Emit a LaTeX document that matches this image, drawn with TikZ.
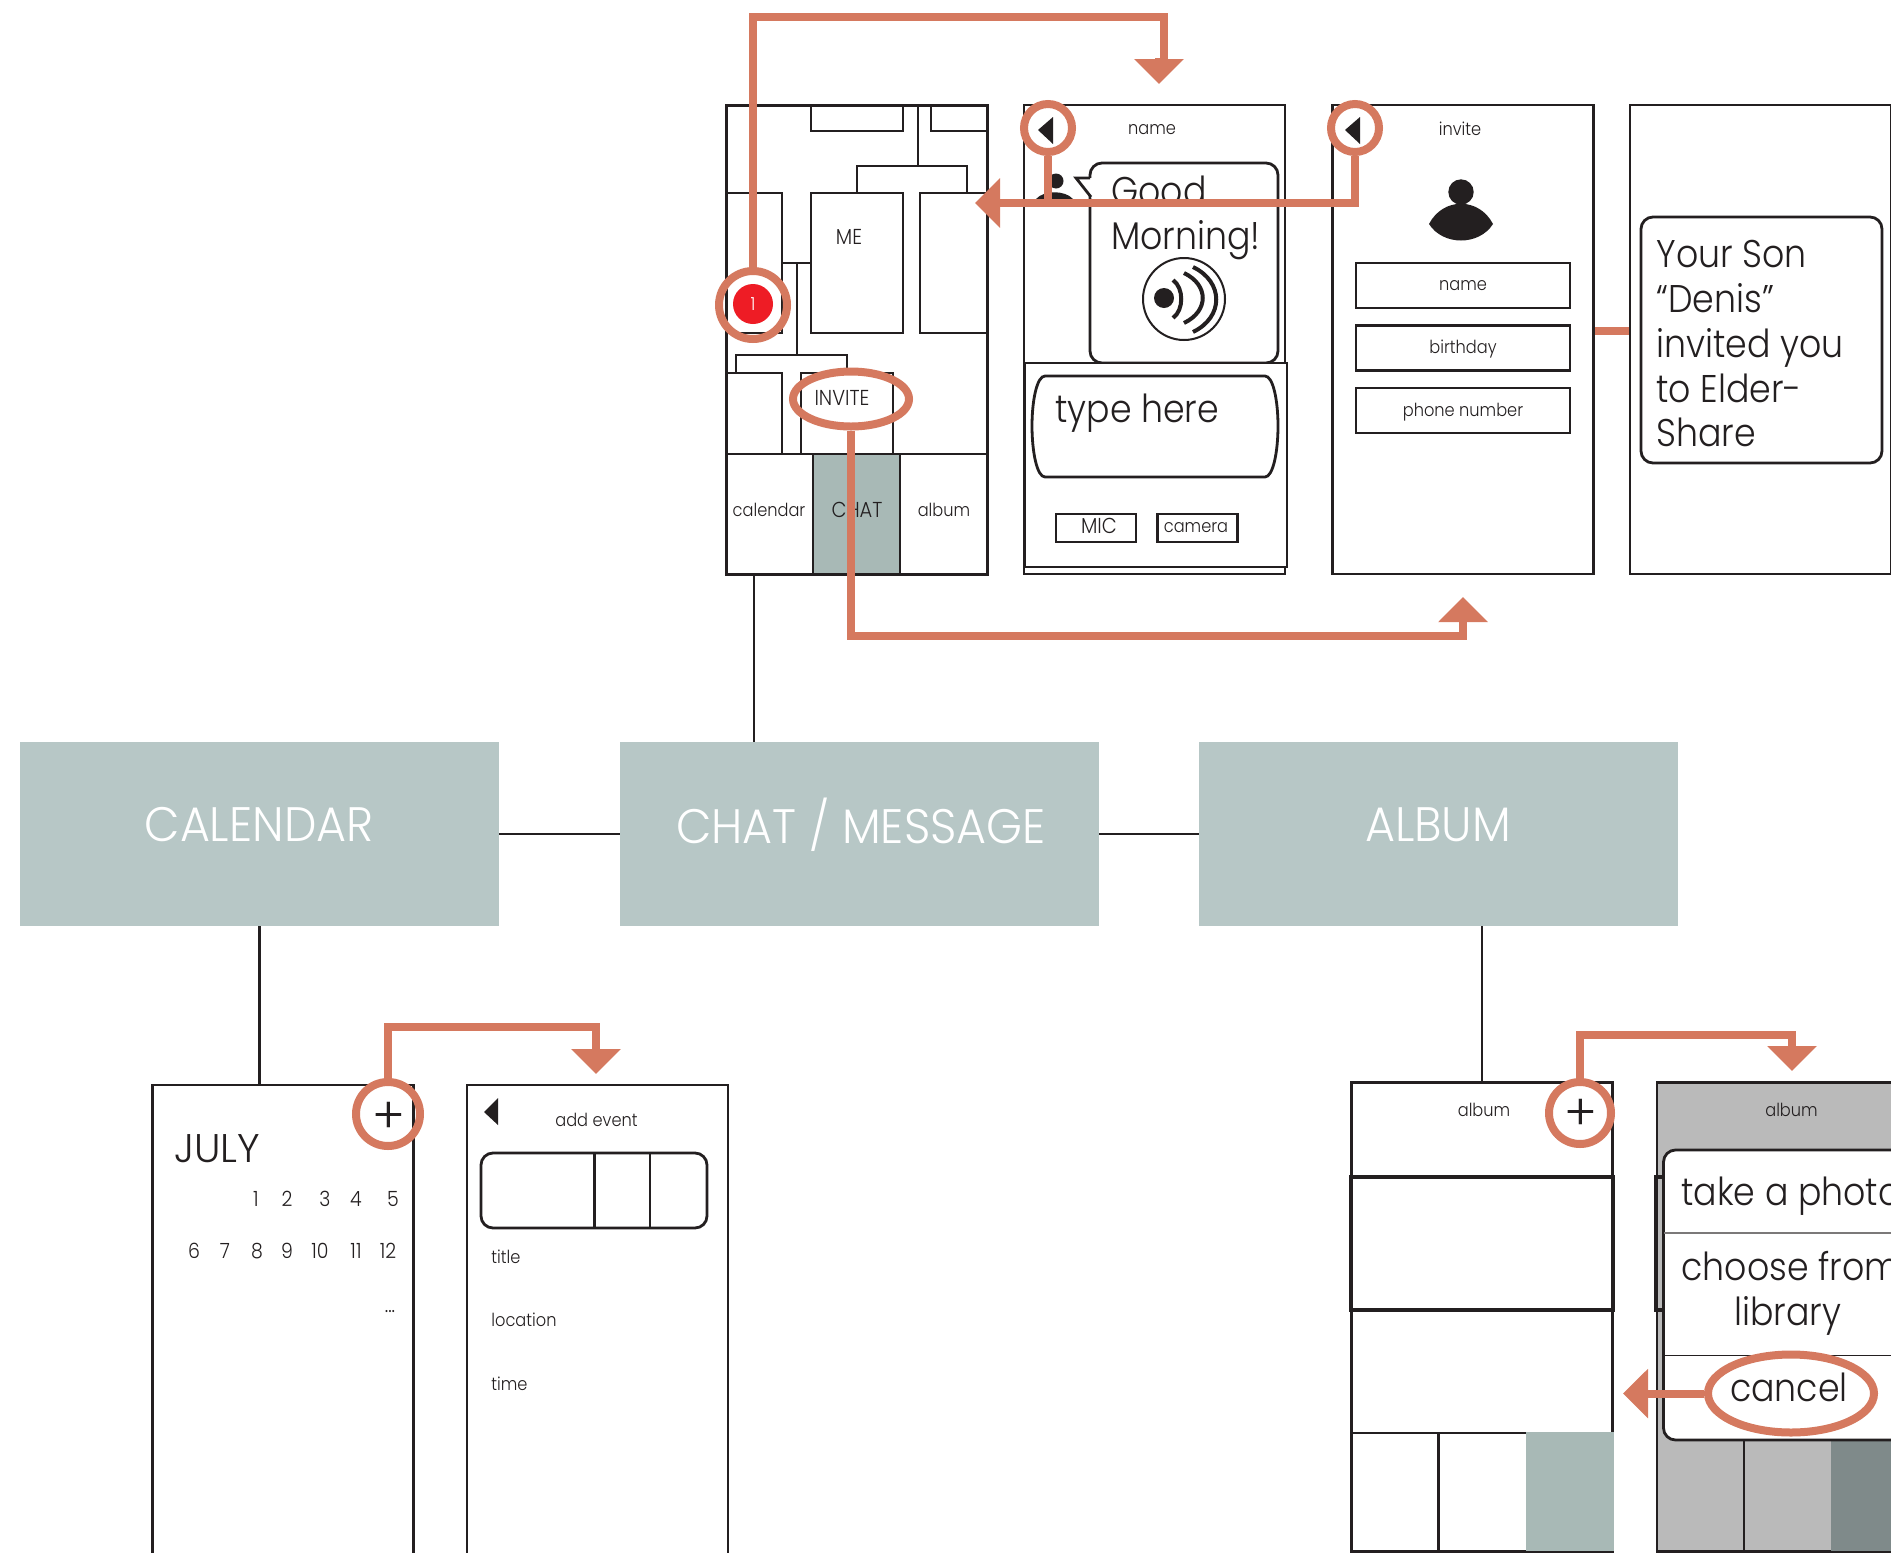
\documentclass[tikz,border=0pt]{standalone}
\usepackage{fontspec}
\setmainfont{Poppins Light}[FakeStretch=0.9]
\newfontfamily\topicfont{Poppins Light}[FakeStretch=0.95]
\newfontfamily\plainfont{Poppins Light}
\usetikzlibrary{positioning, arrows.meta, shapes.geometric}
\definecolor{ink}{HTML}{231F20}
\definecolor{flowred}{HTML}{D5795F}
\definecolor{sage}{HTML}{B7C7C6}
\definecolor{tabsage}{HTML}{A8B9B6}
\definecolor{dimgray}{HTML}{BABABA}
\definecolor{dimtab}{HTML}{7F8A8A}
\definecolor{badgered}{HTML}{EE1C25}

\begin{document}
\begin{tikzpicture}[x=0.5pt, y=-0.5pt, font=\fontsize{9}{10}\selectfont, text=ink,
            wire/.style ={draw=ink, line width=1.4pt},
            screen/.style ={wire, fill=white, rectangle, inner sep=0pt, minimum width=130.5pt, minimum height=234.5pt},
            topic/.style ={rectangle, fill=sage, inner sep=0pt, minimum width=239.5pt, minimum height=92pt},
            topictext/.style ={text=white, font=\topicfont\fontsize{24.2}{26}\selectfont},
            tab/.style ={wire, rectangle, inner sep=0pt, minimum width=43.5pt, minimum height=60pt},
            field/.style ={wire, rectangle, inner sep=0pt, minimum width=107pt, minimum height=22.5pt},
            small/.style ={wire, rectangle, inner sep=0pt, minimum width=40pt, minimum height=14pt},
            bubble/.style ={wire, fill=white, rectangle, rounded corners=6pt, inner sep=0pt},
            big/.style ={font=\fontsize{19.3}{22.4}\selectfont},
            caps/.style ={font=\fontsize{10.8}{12}\selectfont},
            day/.style ={font=\fontsize{10.5}{12}\selectfont},
            plusmark/.style ={font=\plainfont\fontsize{25}{25}\selectfont},
            ring/.style ={circle, draw=flowred, line width=4pt, inner sep=0pt},
            oval/.style ={ellipse, draw=flowred, line width=4pt, inner sep=0pt},
            flow/.style ={draw=flowred, line width=4pt},
            flowtip/.style ={flow, -{Triangle[length=12.5pt, width=24pt]}},
            link/.style ={draw=ink, line width=1.25pt}]

        \clip (0,0) rectangle (1891,1553);

        %%-------------------------- screens arriba --------------
        \node[screen, line width=1.5pt] (home) at (856.5, 339.5) {};
        \node[screen] (nameScreen) at (1154.5, 339.5) {};
        \node[screen] (inviteScreen) at (1463, 339.5) {};
        \node[screen] (sonScreen) at (1760.5, 339.5) {};

        % wireframe de home
        \draw[wire] (811,105) rectangle (903,131);
        \draw[wire] (931,105) rectangle (987,131);
        \draw[wire] (918,105) -- (918,166);
        \draw[wire] (857,193) -- (857,166) -- (967,166) -- (967,193);
        \draw[wire] (811,193) rectangle (903,333);
        \draw[wire] (920,193) rectangle (987,333);
        \draw[wire] (726,193) rectangle (782,333);
        \draw[wire] (782,263) -- (811,263);
        \draw[wire] (797,263) -- (797,355);
        \draw[wire] (736,373) -- (736,355) -- (847,355) -- (847,373);
        \draw[wire] (726,373) rectangle (782,454);
        \draw[wire] (801,373) rectangle (893,454);
        \node[caps] (meLabel) at (849, 237) {ME};
        \node[caps] (inviteLabel) at (842, 398) {INVITE};

        \node[tab] (tabCal) at (769.5, 514) {};
        \node[tab, fill=tabsage] (tabChat) at (856.5, 514) {};
        \node[tab] (tabAlbum) at (943.5, 514) {};
        \node (calTabLabel) at (769, 510) {calendar};
        \node[caps] (chatTabLabel) at (857, 510) {CHAT};
        \node (albumTabLabel) at (944, 510) {album};

        % pantalla de chat
        \node (nameTitle) at (1152, 130) {name};
        \fill[ink] (1056,181) circle (7.5);
        \fill[ink] (1036,199) .. controls (1044,190) and (1065,190) .. (1073,199) .. controls (1065,209) and (1044,209) .. (1036,199) -- cycle;
        \node[bubble, minimum width=94pt, minimum height=100pt] (goodBubble) at (1184, 263) {};
        \fill[white] (1092,178) -- (1076,178) -- (1092,198) -- cycle;
        \draw[wire] (1090,178) -- (1076,178) -- (1091,197);
        \node[big, anchor=base west, inner sep=0pt] (goodText) at (1111, 204) {Good};
        \node[big, anchor=base west, inner sep=0pt] (morningText) at (1111, 249) {Morning!};
        \node[circle, draw=ink, line width=1pt, minimum size=41pt, inner sep=0pt] (speaker) at (1184, 299) {};
        \fill[ink] (1164,298) circle (10);
        \draw[ink, line width=2pt] (1173,280) .. controls (1184,288) and (1184,310) .. (1173,318);
        \draw[ink, line width=2pt] (1184,273) .. controls (1209,285) and (1209,311) .. (1184,323);
        \draw[ink, line width=2pt] (1193,267) .. controls (1224,282) and (1224,317) .. (1193,332);

        \draw[wire, fill=white] (1025,363) rectangle (1287,567);
        \draw[wire] (1045,376) -- (1265,376) .. controls (1273,376) and (1278,400) .. (1278,426) .. controls (1278,452) and (1273,477) .. (1265,477) -- (1045,477) .. controls (1037,477) and (1032,452) .. (1032,426) .. controls (1032,400) and (1037,376) .. (1045,376) -- cycle;
        \node[big, anchor=base west, inner sep=0pt] (typeText) at (1055, 422) {type here};
        \node[small] (micBox) at (1096, 528) {};
        \node[caps] (micLabel) at (1099, 526) {MIC};
        \node[small] (cameraBox) at (1197.5, 528) {};
        \node (cameraLabel) at (1196, 528) {camera};

        % pantalla invite
        \node (inviteTitle) at (1460, 129) {invite};
        \fill[ink] (1461,192) circle (12.7);
        \fill[ink] (1429,224) .. controls (1443,197) and (1479,197) .. (1493,224) .. controls (1479,246) and (1443,246) .. (1429,224) -- cycle;
        \node[field] (nameField) at (1463, 285.5) {};
        \node[field] (birthField) at (1463, 348) {};
        \node[field] (phoneField) at (1463, 410.5) {};
        \node (nameLabel) at (1463, 286) {name};
        \node (birthLabel) at (1463, 349) {birthday};
        \node (phoneLabel) at (1463, 412) {phone number};

        % pantalla de invitacion
        \node[bubble, minimum width=120.5pt, minimum height=123pt] (sonBubble) at (1761.5, 340) {};
        \node[big, align=left, anchor=north west, inner sep=0pt] (sonText) at (1656, 240) {Your Son\\``Denis''\\invited you\\to Elder-\\Share};

        %%-------------------------- bloques -------------------
        \node[topic] (calBlock) at (259.5, 834) {};
        \node[topic] (chatBlock) at (859.5, 834) {};
        \node[topic] (albumBlock) at (1438.5, 834) {};
        \node[topictext] (calLabel) at (259, 825) {CALENDAR};
        \node[topictext] (chatLabel) at (861, 825) {CHAT / MESSAGE};
        \node[topictext] (albumLabel) at (1438, 825) {ALBUM};

        \path[link] (calBlock) edge (chatBlock);
        \path[link] (chatBlock) edge (albumBlock);

        %%-------------------------- calendario ----------------
        \node[screen, minimum height=300pt] (calScreen) at (283, 1385) {};
        \node[screen, minimum height=300pt] (eventScreen) at (597.5, 1385) {};
        \node[font=\plainfont\fontsize{20}{22}\selectfont, anchor=base west, inner sep=0pt] (julyText) at (174, 1162) {JULY};

        \node[day] (d1) at (256, 1199) {1};
        \node[day] (d2) at (287, 1199) {2};
        \node[day] (d3) at (325, 1199) {3};
        \node[day] (d4) at (356, 1199) {4};
        \node[day] (d5) at (393, 1199) {5};
        \node[day] (d6) at (194, 1251) {6};
        \node[day] (d7) at (225, 1251) {7};
        \node[day] (d8) at (257, 1251) {8};
        \node[day] (d9) at (287, 1251) {9};
        \node[day] (d10) at (320, 1251) {10};
        \node[day] (d11) at (356, 1251) {11};
        \node[day] (d12) at (388, 1251) {12};
        \node[day] (dMore) at (390, 1312) {...};

        \fill[ink] (484,1112) -- (498,1098) -- (498,1125) -- cycle;
        \node (eventTitle) at (596.5, 1120) {add event};
        \draw[wire, rounded corners=6pt] (481,1153) rectangle (707,1228);
        \draw[wire] (594.5,1153) -- (594.5,1228);
        \draw[wire] (650,1153) -- (650,1228);
        \node[anchor=west, inner sep=0pt] (titleRow) at (491, 1257) {title};
        \node[anchor=west, inner sep=0pt] (locationRow) at (491, 1320) {location};
        \node[anchor=west, inner sep=0pt] (timeRow) at (491, 1384) {time};

        %%-------------------------- album ---------------------
        \node[screen, minimum height=234.5pt] (albumScreen) at (1482, 1317) {};
        \node (albumTitle) at (1484, 1110) {album};
        \draw[wire, line width=1.55pt] (1351,1177) rectangle (1613,1310);
        \draw[wire] (1351,1433) -- (1613,1433);
        \draw[wire] (1438.5,1433) -- (1438.5,1551);
        \fill[tabsage] (1526,1432) rectangle (1613.5,1551);

        \node[screen, fill=dimgray, minimum height=234.5pt] (pickScreen) at (1787.5, 1317) {};
        \node (pickTitle) at (1791.5, 1110) {album};
        \draw[wire, line width=1.55pt] (1656,1177) rectangle (1900,1310);
        \draw[wire] (1744,1433) -- (1744,1551);
        \fill[dimtab] (1831,1433) rectangle (1918,1551);
        \draw[wire, fill=white, rounded corners=6pt] (1663.5,1150) rectangle (1930,1440);
        \draw[draw=ink!60, line width=0.6pt] (1664,1233) -- (1930,1233);
        \draw[draw=ink, line width=0.5pt] (1664,1355) -- (1930,1355);
        \node[big, anchor=base west, inner sep=0pt] (photoText) at (1681, 1205) {take a photo};
        \node[big, anchor=base west, inner sep=0pt] (fromText) at (1681, 1280) {choose from};
        \node[big, anchor=base, inner sep=0pt] (libraryText) at (1788, 1325) {library};
        \node[big, anchor=base, inner sep=0pt] (cancelText) at (1789, 1401) {cancel};

        %%-------------------------- caminos negros ------------
        \path[link] (home.south -| 754,0) edge (chatBlock.north -| 754,0);
        \path[link] (calBlock.south) edge (calBlock.south |- calScreen.north);
        \path[link] (albumScreen.north |- albumBlock.south) edge (albumScreen.north);

        %%-------------------------- anillos -------------------
        \node[circle, fill=badgered, text=white, minimum size=20pt, inner sep=0pt] (badge) at (753, 304) {1};
        \node[ring, minimum size=34pt] (alertRing) at (753, 305) {};
        \node[oval, minimum width=58pt, minimum height=27.5pt] (inviteRing) at (851, 399) {};
        \fill[ink] (1038,130) -- (1053,117) -- (1053,144) -- cycle;
        \node[ring, minimum size=24pt] (backRingA) at (1048, 128) {};
        \fill[ink] (1345,130) -- (1360,117) -- (1360,144) -- cycle;
        \node[ring, minimum size=24pt] (backRingB) at (1355, 128) {};
        \node[ring, minimum size=32pt] (plusRingA) at (388, 1114) {};
        \node[plusmark] (plusA) at (389, 1118) {+};
        \node[ring, minimum size=31pt] (plusRingB) at (1580, 1113) {};
        \node[plusmark] (plusB) at (1581, 1115) {+};
        \node[oval, minimum width=83pt, minimum height=39pt] (cancelRing) at (1791, 1393.5) {};

        %%-------------------------- caminos rojos -------------
        \coordinate (topRun) at (1164, 17);
        \coordinate (nameTip) at (1159, 84);
        \coordinate (homeTip) at (975, 203);
        \coordinate (lowRun) at (1463, 636);
        \coordinate (inviteTip) at (1463, 597);
        \coordinate (sonLink) at (0, 331);
        \coordinate (calRun) at (596, 1027);
        \coordinate (eventTip) at (596, 1074);
        \coordinate (albumRun) at (1792, 1035);
        \coordinate (pickTip) at (1792, 1071);
        \coordinate (albumTip) at (1623, 1393.5);

        \path[flow] (alertRing.north) |- (topRun) -- (topRun |- 0,62);
        \path[flowtip] (1159,58) -- (nameTip);
        \path[flow] (backRingA.south) -- (backRingA.south |- homeTip);
        \path[flowtip] (backRingB.south) |- (homeTip);
        \path[flowtip] (inviteRing.south) |- (lowRun) -- (inviteTip);
        \path[flow] (inviteScreen.east |- sonLink) -- (sonScreen.west |- sonLink);
        \path[flowtip] (plusRingA.north) |- (calRun) -- (eventTip);
        \path[flowtip] (plusRingB.north) |- (albumRun) -- (pickTip);
        \path[flowtip] (cancelRing.west) -- (albumTip);

\end{tikzpicture}
\end{document}
